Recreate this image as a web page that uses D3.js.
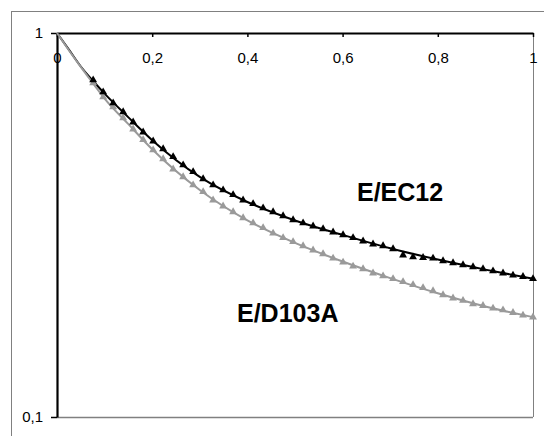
<!DOCTYPE html>
<html>
<head>
<meta charset="utf-8">
<script src="https://cdn.jsdelivr.net/npm/d3@7"></script>
<style>
  html, body { margin: 0; padding: 0; background: #fff; }
  svg { display: block; font-family: "Liberation Sans", Arial, sans-serif; }
</style>
</head>
<body>
<svg id="chart" width="544" height="436"></svg>
<script>
// ---- data ----
const xTicks = [0, 0.2, 0.4, 0.6, 0.8, 1];
const xTickLabels = ["0", "0,2", "0,4", "0,6", "0,8", "1"];
const yTicks = [0.1, 1];
const yTickLabels = ["0,1", "1"];

const sampleX = [
  0.076, 0.097, 0.118, 0.139, 0.160, 0.181, 0.202, 0.223, 0.244, 0.265,
  0.286, 0.307, 0.328, 0.349, 0.370, 0.391, 0.412, 0.433, 0.454, 0.475,
  0.496, 0.517, 0.538, 0.559, 0.580, 0.601, 0.622, 0.643, 0.664, 0.685,
  0.706, 0.727, 0.748, 0.769, 0.790, 0.811, 0.832, 0.853, 0.874, 0.895,
  0.916, 0.937, 0.958, 0.979, 1.000
];
const ec12Values = [
  0.754, 0.702, 0.657, 0.623, 0.586, 0.552, 0.523, 0.499, 0.476, 0.453,
  0.435, 0.417, 0.402, 0.390, 0.379, 0.367, 0.359, 0.350, 0.342, 0.334,
  0.326, 0.320, 0.314, 0.309, 0.303, 0.298, 0.293, 0.287, 0.282, 0.279,
  0.274, 0.264, 0.261, 0.260, 0.259, 0.255, 0.252, 0.249, 0.246, 0.243,
  0.240, 0.237, 0.234, 0.232, 0.229
];
const d103aValues = [
  0.741, 0.681, 0.642, 0.601, 0.562, 0.527, 0.496, 0.470, 0.442, 0.422,
  0.402, 0.386, 0.367, 0.354, 0.342, 0.330, 0.320, 0.311, 0.301, 0.293,
  0.286, 0.279, 0.272, 0.266, 0.259, 0.253, 0.247, 0.243, 0.237, 0.233,
  0.229, 0.225, 0.221, 0.217, 0.213, 0.208, 0.204, 0.201, 0.197, 0.195,
  0.192, 0.190, 0.187, 0.184, 0.182
];
const fitX = [0, 0.025, 0.05, 0.075, 0.1, 0.15, 0.2, 0.3, 0.4, 0.5, 0.6, 0.7, 0.8, 0.9, 1];
const ec12Fit = [1, 0.905, 0.818, 0.752, 0.695, 0.603, 0.526, 0.422, 0.363, 0.325, 0.298, 0.275, 0.257, 0.242, 0.229];
const d103aFit = [1, 0.902, 0.816, 0.741, 0.675, 0.579, 0.498, 0.390, 0.325, 0.284, 0.254, 0.230, 0.210, 0.194, 0.182];

const seriesNames = ["E/EC12", "E/D103A"];
const seriesColors = ["#000000", "#9a9a9a"];

// ---- layout ----
const svg = d3.select("#chart");
const L = 57, R = 533, T = 33, B = 417;

const x = d3.scaleLinear().domain([0, 1]).range([L, R]);
const y = d3.scaleLog().domain([0.1, 1]).range([B, T]);

// outer frame (only left/top visible)
svg.append("rect")
  .attr("x", 11.5).attr("y", 11.5)
  .attr("width", 560).attr("height", 460)
  .attr("fill", "none").attr("stroke", "#808080").attr("stroke-width", 1);

// plot-area bottom/right lines (gray)
svg.append("line")
  .attr("x1", x(0)).attr("x2", x(1)).attr("y1", y(0.1) + 0.5).attr("y2", y(0.1) + 0.5)
  .attr("stroke", "#808080").attr("stroke-width", 1.5);
svg.append("line")
  .attr("x1", x(1) + 0.5).attr("x2", x(1) + 0.5).attr("y1", y(1)).attr("y2", y(0.1))
  .attr("stroke", "#808080").attr("stroke-width", 1);

// x axis on top, ticks pointing down into plot, labels below
const xAxis = d3.axisBottom(x)
  .tickValues(xTicks)
  .tickFormat((d, i) => xTickLabels[i])
  .tickSizeInner(4).tickSizeOuter(0).tickPadding(15);
const gx = svg.append("g").attr("transform", `translate(0,${T})`).call(xAxis);
gx.select(".domain").attr("stroke", "#000").attr("stroke-width", 2.2);
gx.selectAll(".tick line").attr("stroke", "#000").attr("stroke-width", 1.5);
gx.selectAll(".tick text").attr("font-size", 15).attr("fill", "#000")
  .attr("font-family", "Liberation Sans, Arial, sans-serif");

// y axis
const yAxis = d3.axisLeft(y)
  .tickValues(yTicks)
  .tickFormat((d, i) => yTickLabels[i])
  .tickSizeInner(6).tickSizeOuter(0).tickPadding(8);
const gy = svg.append("g").attr("transform", `translate(${L},0)`).call(yAxis);
gy.select(".domain").attr("stroke", "#000").attr("stroke-width", 2.2);
gy.selectAll(".tick line").attr("stroke", "#000").attr("stroke-width", 1.5);
gy.selectAll(".tick text").attr("font-size", 15).attr("fill", "#000")
  .attr("font-family", "Liberation Sans, Arial, sans-serif");

// fit lines
const line = d3.line().x(d => x(d[0])).y(d => y(d[1])).curve(d3.curveMonotoneX);
svg.append("path")
  .datum(fitX.map((v, i) => [v, ec12Fit[i]]))
  .attr("d", line).attr("fill", "none")
  .attr("stroke", seriesColors[0]).attr("stroke-width", 2);
svg.append("path")
  .datum(fitX.map((v, i) => [v, d103aFit[i]]))
  .attr("d", line).attr("fill", "none")
  .attr("stroke", seriesColors[1]).attr("stroke-width", 2);

// markers
const tri = d3.symbol().type(d3.symbolTriangle).size(27);
svg.append("g").selectAll("path")
  .data(sampleX.map((v, i) => [v, d103aValues[i]]))
  .join("path")
  .attr("d", tri)
  .attr("transform", d => `translate(${x(d[0])},${y(d[1])})`)
  .attr("fill", seriesColors[1]);
svg.append("g").selectAll("path")
  .data(sampleX.map((v, i) => [v, ec12Values[i]]))
  .join("path")
  .attr("d", tri)
  .attr("transform", d => `translate(${x(d[0])},${y(d[1])})`)
  .attr("fill", seriesColors[0]);

// series labels
svg.append("text")
  .attr("x", 357).attr("y", 200.5)
  .attr("font-size", 25).attr("font-weight", "bold").attr("fill", "#000")
  .text(seriesNames[0]);
svg.append("text")
  .attr("x", 237).attr("y", 321.5)
  .attr("font-size", 25).attr("font-weight", "bold").attr("fill", "#000")
  .text(seriesNames[1]);
</script>
</body>
</html>
